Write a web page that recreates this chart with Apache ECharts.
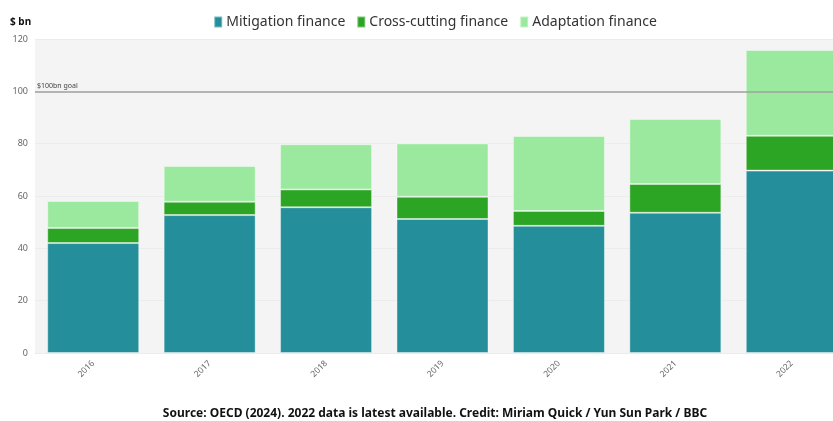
<!DOCTYPE html>
<html>
<head>
<meta charset="utf-8">
<script src="https://cdn.jsdelivr.net/npm/echarts@6/dist/echarts.min.js"></script>
<style>
  html, body { margin: 0; padding: 0; background: #ffffff; overflow: hidden; width: 833px; height: 421px; }
  #chart { width: 870px; height: 421px; }
</style>
</head>
<body>
<div id="chart"></div>
<script>
// Climate finance provided by developed countries, $ bn
const years = ['2016', '2017', '2018', '2019', '2020', '2021', '2022'];
const mitigation = [42.0, 52.7, 55.7, 51.2, 48.6, 53.6, 69.7];
const crossCutting = [5.8, 5.1, 6.8, 8.5, 5.7, 11.0, 13.3];
const adaptation = [10.3, 13.7, 17.3, 20.4, 28.6, 24.8, 32.8];
const yTicks = [0, 20, 40, 60, 80, 100, 120];
const goalValue = 100;

const FONT = '"Noto Sans", "Open Sans", sans-serif';

const chart = echarts.init(document.getElementById('chart'), null, { renderer: 'canvas' });

const segBorder = { borderColor: 'rgba(255,255,255,0.4)', borderWidth: 1 };

chart.setOption({
  animation: false,
  textStyle: { fontFamily: FONT },
  title: [
    {
      text: '$ bn',
      left: 5, top: 12,
      textStyle: { fontFamily: FONT, fontSize: 10, fontWeight: 'bold', color: '#111' }
    },
    {
      text: 'Source: OECD (2024). 2022 data is latest available. Credit: Miriam Quick / Yun Sun Park / BBC',
      left: 'center', top: 403,
      textStyle: { fontFamily: FONT, fontSize: 12, fontWeight: 'bold', color: '#111' }
    }
  ],
  legend: {
    top: 10,
    left: 'center',
    icon: 'rect',
    itemWidth: 8,
    itemHeight: 11,
    itemGap: 11,
    textStyle: { fontFamily: FONT, fontSize: 14, color: '#333', padding: [0, 0, 0, -1] },
    data: ['Mitigation finance', 'Cross-cutting finance', 'Adaptation finance']
  },
  grid: {
    left: 35, top: 39, width: 815, height: 314,
    show: true, backgroundColor: '#f4f4f4', borderWidth: 0,
    containLabel: false
  },
  xAxis: {
    type: 'category',
    data: years,
    axisLine: { show: false },
    axisTick: { show: false },
    axisLabel: {
      rotate: 45, margin: 9,
      fontFamily: FONT, fontSize: 8.5, color: '#666'
    }
  },
  yAxis: {
    type: 'value',
    min: yTicks[0], max: yTicks[yTicks.length - 1], interval: 20,
    axisLine: { show: false },
    axisTick: { show: false },
    splitLine: { show: true, lineStyle: { color: '#ececec', width: 1 } },
    axisLabel: { margin: 7, fontFamily: FONT, fontSize: 9, color: '#666' }
  },
  series: [
    {
      name: 'Mitigation finance', type: 'bar', stack: 'total',
      barWidth: 92,
      itemStyle: Object.assign({ color: '#248e9a' }, segBorder),
      data: mitigation
    },
    {
      name: 'Cross-cutting finance', type: 'bar', stack: 'total',
      barWidth: 92,
      itemStyle: Object.assign({ color: '#2ca524' }, segBorder),
      data: crossCutting
    },
    {
      name: 'Adaptation finance', type: 'bar', stack: 'total',
      barWidth: 92,
      itemStyle: Object.assign({ color: '#9be99f' }, segBorder),
      data: adaptation,
      markLine: {
        silent: true,
        symbol: ['none', 'none'],
        lineStyle: { color: '#a0a0a0', width: 1.5, type: 'solid' },
        label: {
          show: true, position: 'insideStartTop',
          formatter: '$100bn goal',
          fontFamily: FONT, fontSize: 7, color: '#444',
          distance: [2, 2]
        },
        data: [{ yAxis: goalValue }]
      }
    }
  ]
});
</script>
</body>
</html>
